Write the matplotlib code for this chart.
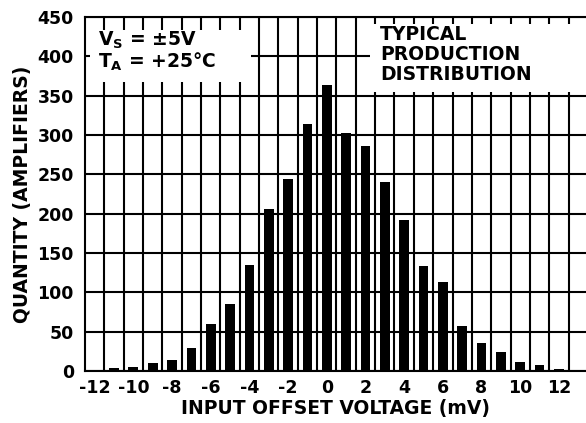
import matplotlib
matplotlib.use('Agg')
import matplotlib.pyplot as plt
from matplotlib.patches import Rectangle
import numpy as np

# input offset voltage (mV) and number of amplifiers in each bin
voltage = [-11, -10, -9, -8, -7, -6, -5, -4, -3, -2, -1, 0,
           1, 2, 3, 4, 5, 6, 7, 8, 9, 10, 11, 12]
quantity = [4, 5, 10, 14, 29, 60, 85, 135, 206, 244, 314, 364,
            302, 286, 240, 192, 134, 113, 57, 35, 24, 12, 7, 2]

xticks = [-12, -10, -8, -6, -4, -2, 0, 2, 4, 6, 8, 10, 12]
xticklabels = ['-12', '-10', '-8', '-6', '-4', '-2', '0', '2', '4', '6', '8', '10', '12']
yticks = [0, 50, 100, 150, 200, 250, 300, 350, 400, 450]

plt.rcParams['font.family'] = 'DejaVu Sans'
plt.rcParams['font.weight'] = 'bold'
plt.rcParams['axes.labelweight'] = 'bold'
plt.rcParams['mathtext.default'] = 'bf'

fig = plt.figure(figsize=(5.86, 4.23), dpi=100)
ax = fig.add_axes([0.145, 0.123, 0.855, 0.837])

lw = 1.5
ax.bar(voltage, quantity, width=0.5, color='black', zorder=3)

ax.set_xlim(-12.5, 13.4)
ax.set_ylim(0, 450)

ax.set_xticks(xticks)
ax.set_xticklabels(xticklabels)
ax.set_yticks(yticks)
ax.tick_params(axis='both', which='both', length=0, labelsize=12.5)
ax.tick_params(axis='y', pad=8)
ax.tick_params(axis='x', pad=6)

# grid: vertical lines between the bins, horizontal at each y tick
ax.vlines(np.arange(-11.5, 13.0, 1.0), 0, 450, colors='black', lw=lw, zorder=1)
ax.grid(True, axis='y', color='black', lw=lw, zorder=1)
ax.set_axisbelow(True)

for s in ['left', 'bottom', 'top']:
    ax.spines[s].set_linewidth(lw)
ax.spines['right'].set_visible(False)

# white boxes behind the annotations
ax.add_patch(Rectangle((-12.24, 367), 8.32, 66, facecolor='white',
                       edgecolor='none', zorder=2))
ax.add_patch(Rectangle((2.23, 354.5), 11.3, 87, facecolor='white',
                       edgecolor='none', zorder=2))

ax.text(-11.83, 414, r'$\mathbf{V_S}$ = ±5V', fontsize=13.5,
        va='baseline', ha='left', zorder=4)
ax.text(-11.83, 386, r'$\mathbf{T_A}$ = +25°C', fontsize=13.5,
        va='baseline', ha='left', zorder=4)
ax.text(2.75, 440, 'TYPICAL\nPRODUCTION\nDISTRIBUTION', fontsize=13.5,
        va='top', ha='left', linespacing=1.08, zorder=4)

ax.set_xlabel('INPUT OFFSET VOLTAGE (mV)', fontsize=13.5, labelpad=1)
ax.set_ylabel('QUANTITY (AMPLIFIERS)', fontsize=13.5, labelpad=4)

fig.savefig('out.png', dpi=100)
